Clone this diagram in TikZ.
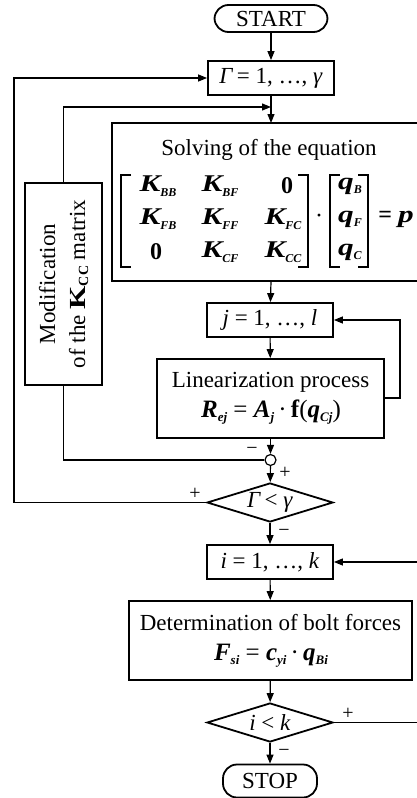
\documentclass[tikz,border=0pt]{standalone}
\usepackage{fontspec}
\setmainfont{Liberation Serif}
\newfontfamily\kfont{Liberation Serif}[FakeStretch=1.3]
\usetikzlibrary{arrows.meta,shapes.geometric}
\newcommand\bi[1]{\textbf{\textit{#1}}}
\newcommand\kk[1]{{\kfont\bfseries\itshape #1}}
\newcommand\msub[1]{\raisebox{-4.5pt}{\fontsize{12}{12}\selectfont\bi{#1}}}
\newcommand\fsub[1]{\raisebox{-4pt}{\fontsize{13}{13}\selectfont\bi{#1}}}
\tikzset{
  base/.style={font=\fontsize{23}{30}\selectfont, inner sep=0pt},
  box/.style={base, draw, line width=1.8pt, align=center},
  term/.style={box, rounded corners=14pt},
  dia/.style={base, draw, line width=1.8pt, diamond, aspect=3.2},
  conn/.style={line width=1.2pt},
  arr/.style={conn, -{Triangle[length=9pt,width=7pt]}},
  sign/.style={font=\fontsize{20}{20}\selectfont, inner sep=0pt},
  mat/.style={font=\fontsize{24}{24}\selectfont, inner sep=0pt},
  frm/.style={font=\fontsize{25}{25}\selectfont, inner sep=0pt},
  brk/.style={line width=2.4pt},
}
\begin{document}
\begin{tikzpicture}[x=1pt,y=-1pt]
\useasboundingbox (0,0) rectangle (417,798);
% terminals
\node[term, minimum width=113, minimum height=27] (start) at (271,18.5) {START};
\node[term, minimum width=94, minimum height=33] (stop) at (270,781) {STOP};
% loop boxes
\node[box, minimum width=126, minimum height=34] (gam) at (271,78) {\textit{Γ}\,= 1, …, \textit{γ}};
\node[box, minimum width=126, minimum height=34] (jb) at (270,320) {\textit{j} = 1, …, \textit{l}};
\node[box, minimum width=126, minimum height=34] (ib) at (270,562) {\textit{i} = 1, …, \textit{k}};
% solving box (right side runs off the page)
\draw[line width=1.8pt] (112,123) rectangle (430,281);
\coordinate (soltop) at (271,123);
\coordinate (solbot) at (271,281);
\node[base] (soltxt) at (269,150) {Solving of the equation};
% matrix entries
\node[mat] (m11) at (158,186) {\kk{K}\msub{BB}};
\node[mat] (m12) at (220,186) {\kk{K}\msub{BF}};
\node[mat] (m13) at (287,186) {\textbf{0}};
\node[mat] (m21) at (158,219) {\kk{K}\msub{FB}};
\node[mat] (m22) at (220,219) {\kk{K}\msub{FF}};
\node[mat] (m23) at (283,219) {\kk{K}\msub{FC}};
\node[mat] (m31) at (156,252) {\textbf{0}};
\node[mat] (m32) at (220,252) {\kk{K}\msub{CF}};
\node[mat] (m33) at (283,252) {\kk{K}\msub{CC}};
\node[mat] (v1) at (350,186) {\kk{q}\msub{B}};
\node[mat] (v2) at (350,219) {\kk{q}\msub{F}};
\node[mat] (v3) at (350,252) {\kk{q}\msub{C}};
\node[mat] (dot) at (319,219) {·};
\node[mat] (eqp) at (396,219) {\textbf{=} \kk{p}};
\draw[brk] (131,175) -- (121,175) -- (121,267) -- (131,267);
\draw[brk] (298,175) -- (308,175) -- (308,267) -- (298,267);
\draw[brk] (340,175) -- (330,175) -- (330,267) -- (340,267);
\draw[brk] (358,175) -- (368,175) -- (368,267) -- (358,267);
% linearization
\node[box, minimum width=227, minimum height=79] (lin) at (270.5,398.5) {};
\node[base] (lint1) at (270.5,382) {Linearization process};
\node[frm] (lint2) at (271,412) {\bi{R}\fsub{ej} = \bi{A}\fsub{j}\,·\,\textbf{f}(\bi{q}\fsub{Cj})};
% determination
\node[box, minimum width=283, minimum height=79] (det) at (270.5,640.5) {};
\node[base] (dett1) at (270.5,623) {Determination of bolt forces};
\node[frm] (dett2) at (271,656) {\bi{F}\fsub{si} = \bi{c}\fsub{yi}\,·\,\bi{q}\fsub{Bi}};
% modification
\node[box, minimum width=77, minimum height=202] (mod) at (63.5,284) {};
\node[base, rotate=90, align=center] (modt) at (63.5,284) {Modification\\of the {\kfont\bfseries K}\raisebox{-3pt}{\fontsize{14}{14}\selectfont\textbf{CC}} matrix};
% decisions
\node[dia, minimum width=126, minimum height=39] (d1) at (270,502.5) {\textit{Γ}\,< \textit{γ}};
\node[dia, minimum width=126, minimum height=39] (d2) at (270,722.5) {\textit{i} < \textit{k}};
% summing circle
\node[circle, draw, conn, minimum size=11, inner sep=0pt] (sum) at (270.5,460) {};
% connectors
\draw[arr] (start) -- (gam);
\draw[arr] (gam) -- (soltop);
\coordinate (m1) at (271,107);
\draw[arr] (mod.north) |- (m1);
\draw[arr] (solbot) -- (jb);
\draw[arr] (jb) -- (lin);
\coordinate (lr) at (400,398);
\draw[arr] (lin.east |- lr) -- (lr) |- (jb.east);
\draw[arr] (lin) -- (sum);
\draw[conn] (mod.south) |- (sum.west);
\draw[arr] (sum) -- (d1);
\coordinate (ol) at (14,502.5);
\draw[arr] (d1.west) -- (ol) |- (gam.west);
\draw[arr] (d1) -- (ib);
\draw[arr] (ib) -- (det);
\draw[arr] (det) -- (d2);
\coordinate (rr) at (430,722.5);
\draw[arr] (d2.east) -- (rr) |- (ib.east);
\draw[arr] (d2) -- (stop);
% signs
\node[sign] (s1) at (252,451) {−};
\node[sign] (s2) at (285,473) {+};
\node[sign] (s3) at (195,494) {+};
\node[sign] (s4) at (284,533) {−};
\node[sign] (s5) at (348,714) {+};
\node[sign] (s6) at (284,753) {−};
\end{tikzpicture}
\end{document}
